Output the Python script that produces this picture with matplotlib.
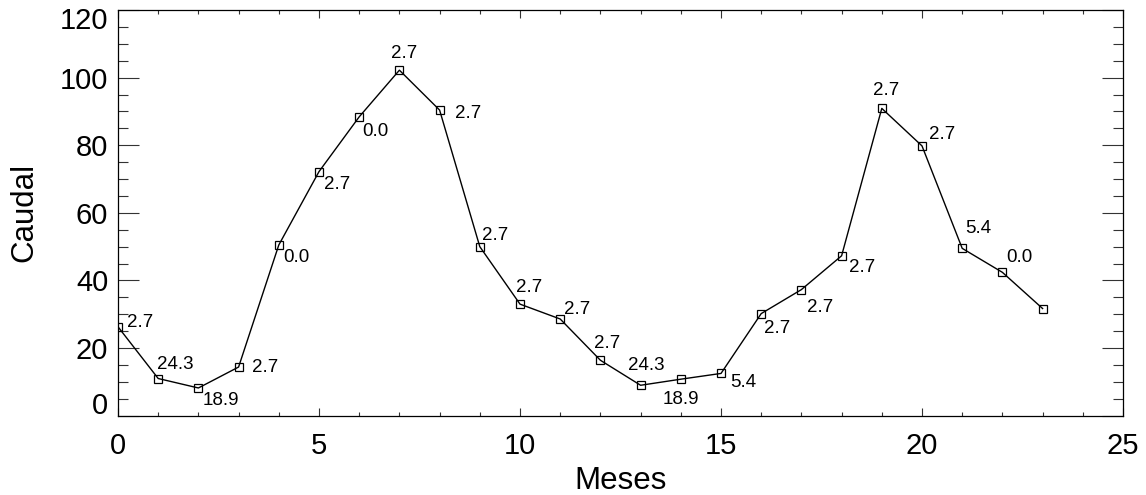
import matplotlib
matplotlib.use("Agg")
import matplotlib.pyplot as plt
from matplotlib.ticker import MultipleLocator, FuncFormatter

# datos: caudal mensual y etiqueta de cada punto
meses = list(range(24))
caudal = [26.3, 11.0, 8.2, 14.4, 50.5, 72.2, 88.4, 102.2, 90.4, 50.0, 33.0, 28.6,
          16.4, 9.0, 10.8, 12.5, 30.2, 37.3, 47.3, 90.9, 79.8, 49.5, 42.4, 31.7]
etiquetas = ["2.7", "24.3", "18.9", "2.7", "0.0", "2.7", "0.0", "2.7", "2.7", "2.7",
             "2.7", "2.7", "2.7", "24.3", "18.9", "5.4", "2.7", "2.7", "2.7", "2.7",
             "2.7", "5.4", "0.0", ""]
ymin, ymax = 0, 120

# desplazamiento (pixeles) de cada etiqueta respecto al punto
desp = [(9, 4), (-1, 14), (4, -13), (13, 0), (4, -13), (5, -13), (3, -15), (-8, 17),
        (15, -3), (2, 11), (-4, 17), (4, 10), (-6, 17), (-13, 20), (-18, -20), (9, -9),
        (3, -15), (6, -18), (7, -12), (-9, 18), (7, 11), (3, 20), (4, 15), (0, 0)]

plt.rcParams['font.family'] = ['Liberation Sans', 'DejaVu Sans']

fig = plt.figure(figsize=(11.46, 4.95), dpi=100)
ax = fig.add_axes((118 / 1146, 1 - 415.7 / 495, 1005 / 1146, 405.7 / 495))

ax.plot(meses, caudal, color="black", lw=1.0, marker="s", ms=6,
        mfc="none", mec="black", mew=0.9)

for x, y, t, (dx, dy) in zip(meses, caudal, etiquetas, desp):
    if t:
        ax.annotate(t, (x, y), xytext=(dx, dy), textcoords="offset pixels",
                    fontsize=13.5, ha="left", va="center")

ax.set_xlim(0, 25)
ax.set_ylim(ymin, ymax)
ax.xaxis.set_major_locator(MultipleLocator(5))
ax.xaxis.set_minor_locator(MultipleLocator(1))
ax.yaxis.set_major_locator(MultipleLocator(20))
ax.yaxis.set_minor_locator(MultipleLocator(5))
# las etiquetas extremas del eje y van aparte, metidas dentro del rango (estilo IDL)
ax.yaxis.set_major_formatter(FuncFormatter(lambda v, p: "" if v in (ymin, ymax) else f"{v:g}"))
yl = ax.get_yaxis_transform()
ax.annotate(f"{ymin}", (0, ymin), xycoords=yl, xytext=(-10, -4), textcoords="offset pixels",
            fontsize=21, ha="right", va="bottom")
ax.annotate(f"{ymax}", (0, ymax), xycoords=yl, xytext=(-10, 3), textcoords="offset pixels",
            fontsize=21, ha="right", va="top")

ax.tick_params(which="both", direction="in", top=True, right=True,
               labelsize=21, width=0.8, color="#333333")
ax.tick_params(axis="x", which="major", length=6, pad=12)
ax.tick_params(axis="x", which="minor", length=3)
ax.tick_params(axis="y", which="major", length=15, pad=7)
ax.tick_params(axis="y", which="minor", length=7.5)
for s in ax.spines.values():
    s.set_linewidth(0.9)

ax.set_xlabel("Meses", fontsize=22.5, labelpad=4)
ax.set_ylabel("Caudal", fontsize=22.5, labelpad=15)

fig.savefig("out.png", dpi=100)
